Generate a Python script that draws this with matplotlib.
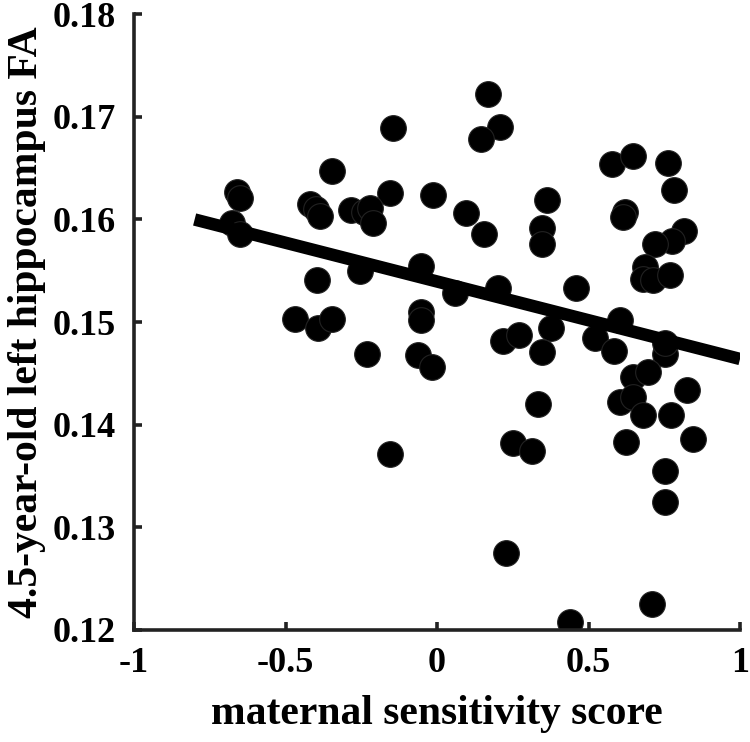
import matplotlib
matplotlib.use("Agg")
import matplotlib.pyplot as plt
import numpy as np

# maternal sensitivity score (x) and 4.5-year-old left hippocampus FA (y)
sensitivity = [
    -0.144, -0.345, -0.66, -0.65, -0.155, -0.012, -0.42, -0.40, -0.385,
    -0.285, -0.24, -0.22, -0.21, -0.678, -0.650, -0.053, -0.395, -0.254,
    -0.469, -0.394, -0.348, -0.053, -0.053, -0.230, -0.062, -0.018, -0.155,
    0.169, 0.208, 0.144, 0.577, 0.648, 0.761, 0.782, 0.364, 0.095, 0.620,
    0.613, 0.155, 0.345, 0.345, 0.815, 0.775, 0.719, 0.686, 0.681, 0.714,
    0.769, 0.459, 0.202, 0.059, 0.604, 0.375, 0.219, 0.272, 0.521, 0.345,
    0.585, 0.752, 0.752, 0.648, 0.697, 0.604, 0.648, 0.679, 0.826, 0.771,
    0.846, 0.623, 0.334, 0.250, 0.312, 0.752, 0.752, 0.227, 0.708, 0.439,
]
hippocampus_fa = [
    0.1689, 0.1647, 0.1627, 0.1621, 0.1626, 0.1624, 0.1615, 0.1610, 0.1603,
    0.1609, 0.1607, 0.1611, 0.1596, 0.1596, 0.1586, 0.1555, 0.1541, 0.1550,
    0.1503, 0.1494, 0.1503, 0.1510, 0.1502, 0.1469, 0.1468, 0.1456, 0.1371,
    0.1722, 0.1690, 0.1678, 0.1654, 0.1662, 0.1655, 0.1629, 0.1619, 0.1606,
    0.1607, 0.1602, 0.1586, 0.1592, 0.1576, 0.1589, 0.1579, 0.1576, 0.1554,
    0.1542, 0.1541, 0.1546, 0.1533, 0.1533, 0.1528, 0.1502, 0.1494, 0.1482,
    0.1487, 0.1484, 0.1471, 0.1472, 0.1469, 0.1480, 0.1446, 0.1451, 0.1422,
    0.1427, 0.1409, 0.1434, 0.1409, 0.1386, 0.1383, 0.1420, 0.1382, 0.1374,
    0.1355, 0.1325, 0.1275, 0.1225, 0.1208,
]

# regression line (as drawn in the figure)
fit_x_range = [-0.80, 1.0]
fit_slope = -0.00755
fit_intercept = 0.15395

x_ticks = [-1, -0.5, 0, 0.5, 1]
x_tick_labels = ["-1", "-0.5", "0", "0.5", "1"]
y_ticks = [0.12, 0.13, 0.14, 0.15, 0.16, 0.17, 0.18]
y_tick_labels = ["0.12", "0.13", "0.14", "0.15", "0.16", "0.17", "0.18"]

plt.rcParams["font.family"] = ["Liberation Serif", "DejaVu Serif"]
plt.rcParams["font.weight"] = "bold"

fig = plt.figure(figsize=(7.5, 7.42), dpi=100)
ax = fig.add_axes([0.1787, 0.151, 0.8080, 0.830])

fx = np.array(fit_x_range)
ax.plot(fx, fit_slope * fx + fit_intercept, color="black", linewidth=9,
        solid_capstyle="butt", zorder=3)
ax.plot(sensitivity, hippocampus_fa, linestyle="none", marker="o",
        markersize=18.5, markerfacecolor="black", markeredgecolor="#222222",
        markeredgewidth=0.8, zorder=2)

ax.set_xlim(-1, 1)
ax.set_ylim(0.12, 0.18)
ax.set_xticks(x_ticks)
ax.set_xticklabels(x_tick_labels)
ax.set_yticks(y_ticks)
ax.set_yticklabels(y_tick_labels)

for side in ["top", "right"]:
    ax.spines[side].set_visible(False)
for side in ["left", "bottom"]:
    ax.spines[side].set_linewidth(2.6)
    ax.spines[side].set_color("#222222")

ax.tick_params(axis="both", direction="in", length=6, width=2.6,
               color="#222222", labelsize=26)
ax.tick_params(axis="x", pad=12)
ax.tick_params(axis="y", pad=13)
for lbl in ax.get_xticklabels() + ax.get_yticklabels():
    lbl.set_fontweight("bold")

ax.set_xlabel("maternal sensitivity score", fontsize=30, fontweight="bold",
              labelpad=11)
ax.set_ylabel("4.5-year-old left hippocampus FA", fontsize=30,
              fontweight="bold", labelpad=5)

fig.savefig("out.png", dpi=100, facecolor="white")
